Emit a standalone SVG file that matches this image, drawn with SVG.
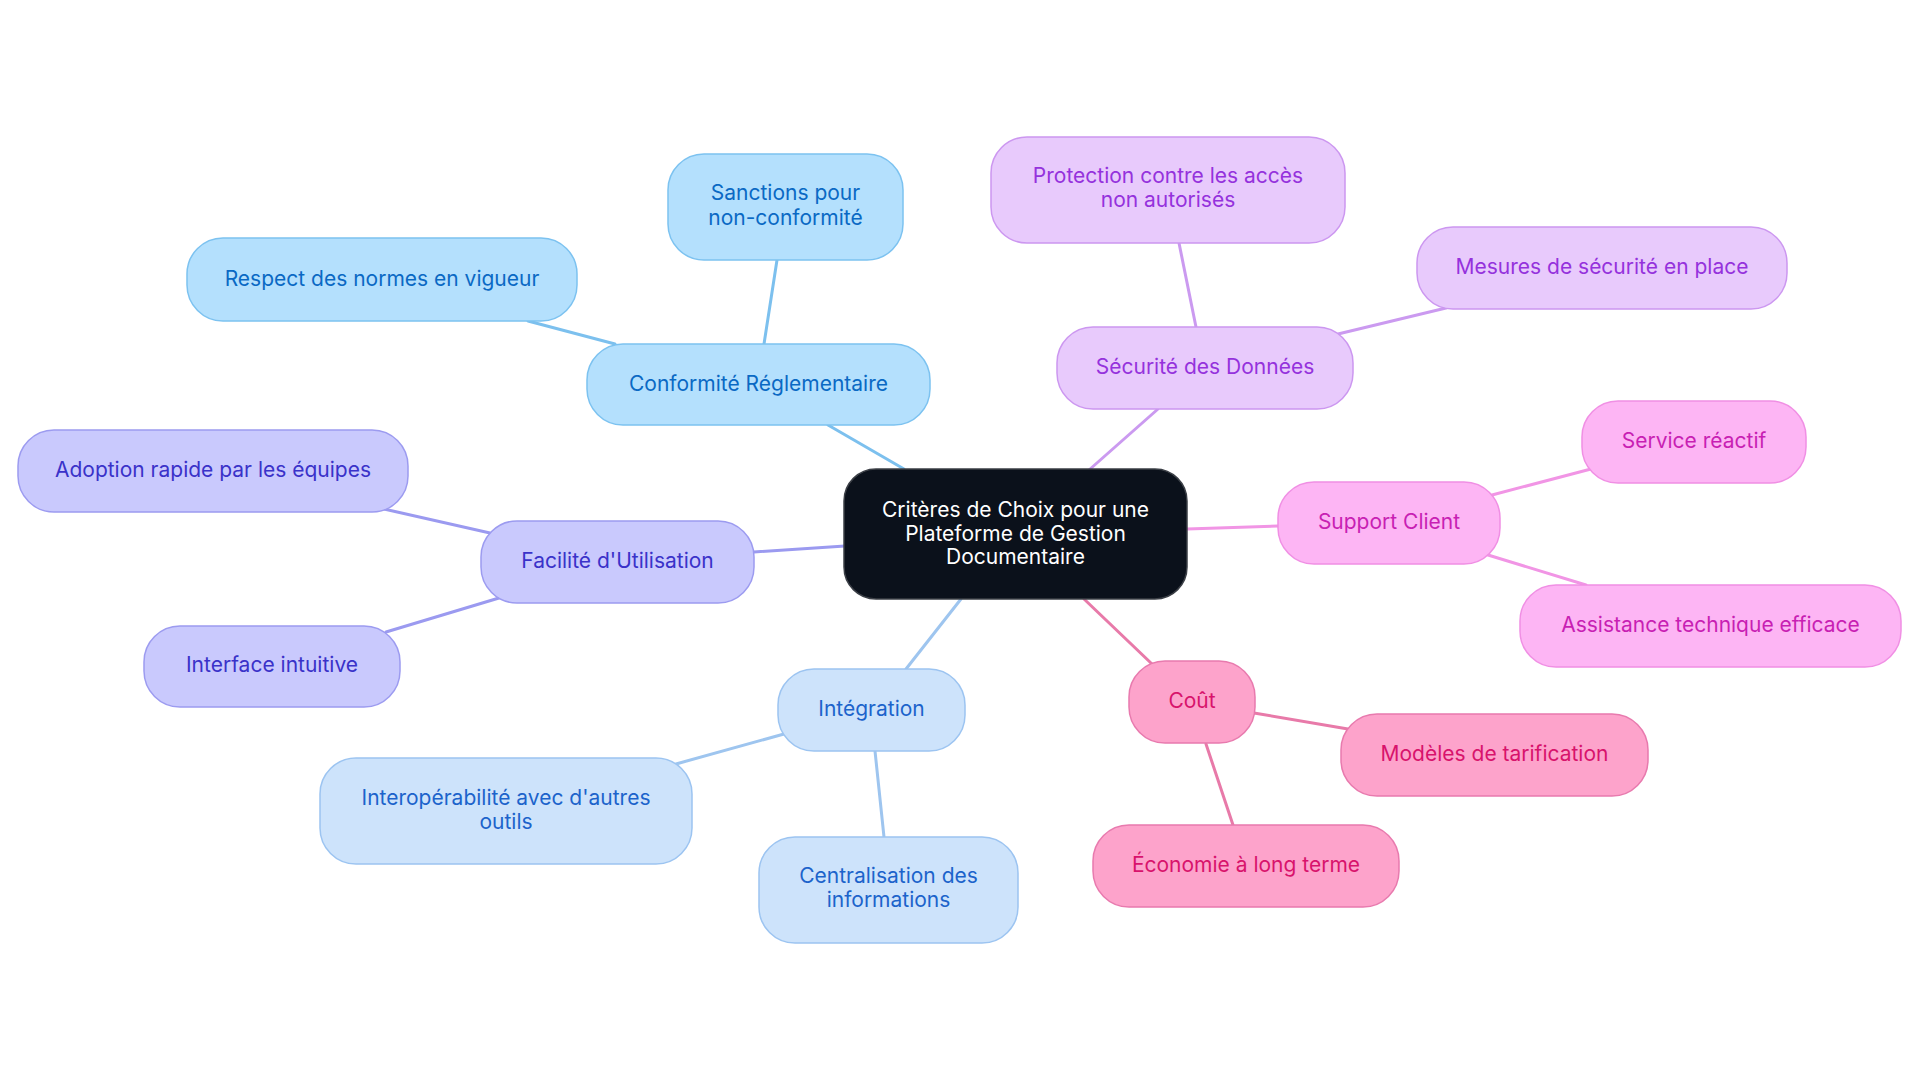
<svg xmlns="http://www.w3.org/2000/svg" width="1920" height="1083" viewBox="0 0 1920 1083">
<style>
text{font-family:"Inter","Noto Sans",sans-serif;font-size:21px;text-anchor:middle;}
.n rect{stroke-width:1.5;}
.ctr rect{fill:#0b111b;stroke:#3b3f46;}
.ctr text{fill:#ffffff;}
.blue rect{fill:#b4e0fd;stroke:#7cc2f0;}
.blue text{fill:#0a69c4;}
.purp rect{fill:#e8cafc;stroke:#cc97f0;}
.purp text{fill:#9532dc;}
.mag rect{fill:#fdb5f4;stroke:#f08fe4;}
.mag text{fill:#c81fb3;}
.pink rect{fill:#fda3cb;stroke:#e87aae;}
.pink text{fill:#d8136c;}
.lblue rect{fill:#cde3fb;stroke:#9cc4f1;}
.lblue text{fill:#1c63cb;}
.viol rect{fill:#c9c9fd;stroke:#9c9bf0;}
.viol text{fill:#3a32c9;}
#connectors line{stroke-width:3;stroke-linecap:round;fill:none;}
.cb{stroke:#7cc0ee;}
.cp{stroke:#cb9af0;}
.cm{stroke:#f195e5;}
.ck{stroke:#e87aa9;}
.cl{stroke:#9ec5ef;}
.cv{stroke:#9b9af0;}
</style>
<rect width="1920" height="1083" fill="#ffffff"/>
<g id="connectors">
<line class="cb" x1="904" y1="469" x2="828" y2="425"/>
<line class="cb" x1="764" y1="344" x2="777" y2="260"/>
<line class="cb" x1="615" y1="344" x2="528" y2="321"/>
<line class="cp" x1="1089" y1="470" x2="1158" y2="409"/>
<line class="cp" x1="1196" y1="327" x2="1179" y2="243"/>
<line class="cp" x1="1338" y1="334" x2="1446" y2="308"/>
<line class="cm" x1="1187" y1="529" x2="1278" y2="526"/>
<line class="cm" x1="1492" y1="495" x2="1591" y2="469"/>
<line class="cm" x1="1488" y1="555" x2="1586" y2="585"/>
<line class="ck" x1="1084" y1="599" x2="1152" y2="664"/>
<line class="ck" x1="1254" y1="713" x2="1348" y2="729"/>
<line class="ck" x1="1206" y1="744" x2="1233" y2="825"/>
<line class="cl" x1="961" y1="599" x2="906" y2="669"/>
<line class="cl" x1="784" y1="734" x2="676" y2="764"/>
<line class="cl" x1="875" y1="751" x2="884" y2="837"/>
<line class="cv" x1="845" y1="546" x2="754" y2="552"/>
<line class="cv" x1="490" y1="533" x2="384" y2="509"/>
<line class="cv" x1="499" y1="598" x2="386" y2="632"/>
</g>
<g id="center" class="n ctr">
<rect x="844" y="469" width="343" height="130" rx="32"/>
<text x="1015.5" y="516.5">Critères de Choix pour une</text>
<text x="1015.5" y="540.5">Plateforme de Gestion</text>
<text x="1015.5" y="563.5">Documentaire</text>
</g>
<g id="conformite" class="n blue">
<rect x="587" y="344" width="343" height="81" rx="36"/>
<text x="758.5" y="390.5">Conformité Réglementaire</text>
</g>
<g id="sanctions" class="n blue">
<rect x="668" y="154" width="235" height="106" rx="36"/>
<text x="785.5" y="199.5">Sanctions pour</text>
<text x="785.5" y="224.5">non-conformité</text>
</g>
<g id="respect" class="n blue">
<rect x="187" y="238" width="390" height="83" rx="36"/>
<text x="382" y="285.5">Respect des normes en vigueur</text>
</g>
<g id="securite" class="n purp">
<rect x="1057" y="327" width="296" height="82" rx="36"/>
<text x="1205" y="373.5">Sécurité des Données</text>
</g>
<g id="protection" class="n purp">
<rect x="991" y="137" width="354" height="106" rx="36"/>
<text x="1168" y="182.5">Protection contre les accès</text>
<text x="1168" y="206.5">non autorisés</text>
</g>
<g id="mesures" class="n purp">
<rect x="1417" y="227" width="370" height="82" rx="36"/>
<text x="1602" y="273.5">Mesures de sécurité en place</text>
</g>
<g id="support" class="n mag">
<rect x="1278" y="482" width="222" height="82" rx="36"/>
<text x="1389" y="528.5">Support Client</text>
</g>
<g id="service" class="n mag">
<rect x="1582" y="401" width="224" height="82" rx="36"/>
<text x="1694" y="447.5">Service réactif</text>
</g>
<g id="assistance" class="n mag">
<rect x="1520" y="585" width="381" height="82" rx="36"/>
<text x="1710.5" y="631.5">Assistance technique efficace</text>
</g>
<g id="cout" class="n pink">
<rect x="1129" y="661" width="126" height="82" rx="36"/>
<text x="1192" y="707.5">Coût</text>
</g>
<g id="modeles" class="n pink">
<rect x="1341" y="714" width="307" height="82" rx="36"/>
<text x="1494.5" y="760.5">Modèles de tarification</text>
</g>
<g id="economie" class="n pink">
<rect x="1093" y="825" width="306" height="82" rx="36"/>
<text x="1246" y="871.5">Économie à long terme</text>
</g>
<g id="integration" class="n lblue">
<rect x="778" y="669" width="187" height="82" rx="36"/>
<text x="871.5" y="715.5">Intégration</text>
</g>
<g id="interop" class="n lblue">
<rect x="320" y="758" width="372" height="106" rx="36"/>
<text x="506" y="804.5">Interopérabilité avec d'autres</text>
<text x="506" y="828.5">outils</text>
</g>
<g id="centralisation" class="n lblue">
<rect x="759" y="837" width="259" height="106" rx="36"/>
<text x="888.5" y="882.5">Centralisation des</text>
<text x="888.5" y="906.5">informations</text>
</g>
<g id="facilite" class="n viol">
<rect x="481" y="521" width="273" height="82" rx="36"/>
<text x="617.5" y="567.5">Facilité d'Utilisation</text>
</g>
<g id="adoption" class="n viol">
<rect x="18" y="430" width="390" height="82" rx="36"/>
<text x="213" y="476.5">Adoption rapide par les équipes</text>
</g>
<g id="interface" class="n viol">
<rect x="144" y="626" width="256" height="81" rx="36"/>
<text x="272" y="672">Interface intuitive</text>
</g>
</svg>
